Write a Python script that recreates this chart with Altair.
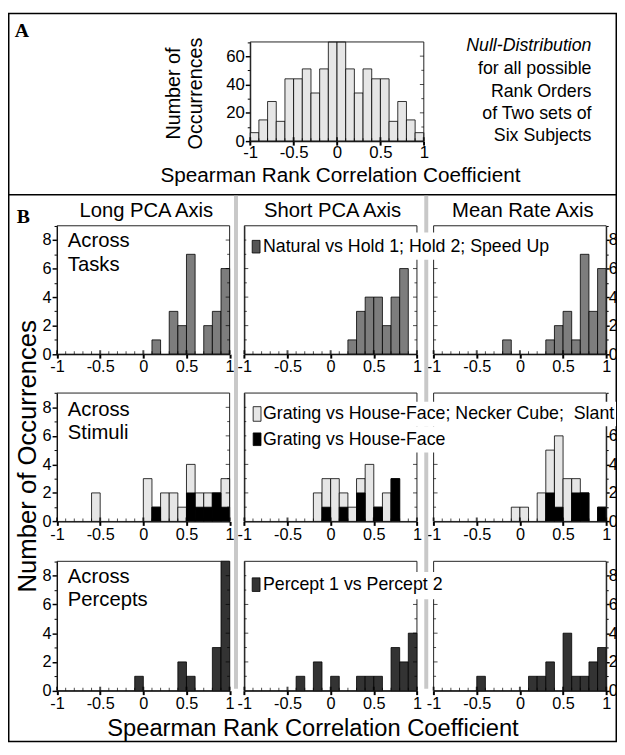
import altair as alt
import pandas as pd

# ---------------- data ----------------
EDGES = [-1.0, -0.9, -0.8, -0.7, -0.6, -0.5, -0.4, -0.3, -0.2, -0.1, 0.0,
         0.1, 0.2, 0.3, 0.4, 0.5, 0.6, 0.7, 0.8, 0.9, 1.0]
X_MAJOR = [-1.0, -0.5, 0.0, 0.5, 1.0]

NULL_COUNTS = [6, 15, 28, 14, 44, 44, 51, 34, 51, 73, 73, 51, 34, 51, 44, 44, 14, 28, 15, 6]

LONG_TASKS = [0, 0, 0, 0, 0, 0, 0, 0, 0, 0, 0, 1, 0, 3, 2, 7, 0, 2, 3, 6]
SHORT_TASKS = [0, 0, 0, 0, 0, 0, 0, 0, 0, 0, 0, 0, 1, 3, 4, 4, 2, 4, 6, 0]
MEAN_TASKS = [0, 0, 0, 0, 0, 0, 0, 0, 1, 0, 0, 0, 0, 1, 2, 3, 1, 7, 3, 6]

LONG_STIM_ALL = [0, 0, 0, 0, 2, 0, 0, 0, 0, 0, 3, 1, 2, 2, 1, 4, 2, 2, 2, 3]
LONG_STIM_GHF = [0, 0, 0, 0, 0, 0, 0, 0, 0, 0, 0, 1, 0, 0, 0, 2, 1, 1, 2, 1]
SHORT_STIM_ALL = [0, 0, 0, 0, 0, 0, 0, 0, 2, 3, 3, 2, 1, 3, 4, 1, 2, 3, 0, 0]
SHORT_STIM_GHF = [0, 0, 0, 0, 0, 0, 0, 0, 0, 1, 0, 1, 0, 2, 0, 1, 0, 3, 0, 0]
MEAN_STIM_ALL = [0, 0, 0, 0, 0, 0, 0, 0, 0, 1, 1, 0, 2, 5, 6, 3, 3, 2, 0, 1]
MEAN_STIM_GHF = [0, 0, 0, 0, 0, 0, 0, 0, 0, 0, 0, 0, 0, 2, 1, 0, 2, 2, 0, 1]

LONG_PERC = [0, 0, 0, 0, 0, 0, 0, 0, 0, 1, 0, 0, 0, 0, 2, 1, 0, 0, 3, 9]
SHORT_PERC = [0, 0, 0, 0, 0, 0, 1, 0, 2, 0, 1, 0, 0, 1, 1, 1, 0, 3, 2, 4]
MEAN_PERC = [0, 0, 0, 0, 0, 1, 0, 0, 0, 0, 0, 1, 1, 2, 0, 4, 1, 1, 2, 3]

COLUMN_TITLES = ["Long PCA Axis", "Short PCA Axis", "Mean Rate Axis"]
ROW_TITLES = [["Across", "Tasks"], ["Across", "Stimuli"], ["Across", "Percepts"]]
LEGEND_TASKS = "Natural vs Hold 1; Hold 2; Speed Up"
LEGEND_STIM_ALL = "Grating vs House-Face; Necker Cube;\u00a0 Slant"
LEGEND_STIM_GHF = "Grating vs House-Face"
LEGEND_PERC = "Percept 1 vs Percept 2"
NULL_TEXT = ["Null-Distribution", "for all possible", "Rank Orders", "of Two sets of", "Six Subjects"]
X_TITLE = "Spearman Rank Correlation Coefficient"
Y_TITLE = "Number of Occurrences"

# ---------------- layout ----------------
W, H = 617, 739
FONT = "Liberation Sans"
SERIF = "Liberation Serif"
TASK_GRAY = "#7d7d7d"
PERC_DARK = "#333333"
LIGHT = "#e6e6e6"
BLACK = "#000000"


def X(o):
    return (o - 2) * W / 621.0


def Y(o):
    return (o - 3) * H / 750.0


def cond(test, major, minor):
    return {"condition": {"test": test, "value": major}, "value": minor}


def bins_df(counts):
    rows = [{"x0": EDGES[k], "x1": EDGES[k + 1], "c": c, "b": 0}
            for k, c in enumerate(counts) if c > 0]
    return pd.DataFrame(rows)


def hist(series, box, ymax, ymajor, ystep, mode, lab_size=17, xpad=1, hide_top=False):
    x0, x1, yt, yb = box
    xs = alt.Scale(domain=[-1, 1], range=[X(x0), X(x1)], nice=False, zero=False)
    ys = alt.Scale(domain=[0, ymax], range=[Y(yb), Y(yt)], nice=False, zero=False, clamp=True)
    xaxis = alt.Axis(
        orient="bottom", offset=Y(yb) - H, values=X_MAJOR, title=None, grid=False,
        labelExpr="'' + datum.value", labelOverlap=False, labelFlush=False, labelBound=False,
        labelFont=FONT, labelFontSize=lab_size, labelColor="black", labelPadding=xpad,
        domainColor="black", domainWidth=1.2,
        tickColor="black", tickWidth=2, tickSize=4)
    yvals = list(range(0, ymax + 1, ystep))
    ytest = f"datum.value % {ymajor} == 0"
    show = f"({ytest}) && datum.value < {ymax - 1}" if hide_top else ytest
    common = dict(title=None, grid=False, values=yvals, labelOverlap=False,
                  labelExpr=f"({show}) ? datum.label : ''",
                  labelFont=FONT, labelFontSize=lab_size, labelColor="black",
                  domainColor="black", domainWidth=1, tickColor="black",
                  tickWidth=cond(ytest, 1.5, 1))
    if mode == "left":
        yaxis = alt.Axis(orient="left", offset=-X(x0), labelPadding=1,
                         tickSize=cond(ytest, 5, 3), **common)
        inner_edges = [(1.0, -1)]
    elif mode == "right":
        yaxis = alt.Axis(orient="right", offset=X(x1) - W, labelPadding=-1,
                         tickSize=cond(ytest, 3, 2), **common)
        inner_edges = [(-1.0, 1)]
    else:
        common.update(labels=False)
        yaxis = alt.Axis(orient="left", offset=-X(x0), ticks=False, **common)
        inner_edges = [(-1.0, 1), (1.0, -1)]
    enc = dict(x=alt.X("x0:Q", scale=xs, axis=xaxis), y=alt.Y("c:Q", scale=ys, axis=yaxis))
    layers = []
    for counts, fill in series:
        layers.append(alt.Chart(bins_df(counts)).mark_bar(
            fill=fill, stroke="black", strokeWidth=0.8).encode(
                x2=alt.X2("x1"), y2=alt.Y2("b"), **enc))
    frame = alt.Chart(pd.DataFrame([{"x0": -1.0, "x1": 1.0, "c": ymax, "b": 0}])).mark_rect(
        fillOpacity=0, stroke="#222222", strokeWidth=1).encode(
            x2=alt.X2("x1"), y2=alt.Y2("b"), **enc)
    layers.append(frame)
    # inward x ticks (major ones cross the axis together with the outward axis ticks)
    xmaj = pd.DataFrame([{"x0": v, "c": 0} for v in X_MAJOR])
    xmin = pd.DataFrame([{"x0": v, "c": 0} for v in EDGES if v not in X_MAJOR])
    layers.append(alt.Chart(xmaj).mark_tick(orient="vertical", size=4, thickness=2,
                                            yOffset=-2, color="black").encode(**enc))
    layers.append(alt.Chart(xmin).mark_tick(orient="vertical", size=3, thickness=1,
                                            yOffset=-1.5, color="black").encode(**enc))
    # inward y ticks on edges without labels
    for edge, sign in inner_edges:
        ymaj = pd.DataFrame([{"x0": edge, "c": v} for v in yvals[1:-1] if v % ymajor == 0])
        ymin = pd.DataFrame([{"x0": edge, "c": v} for v in yvals[1:-1] if v % ymajor != 0])
        layers.append(alt.Chart(ymaj).mark_tick(orient="horizontal", size=4, thickness=1,
                                                xOffset=sign * 2, color="black").encode(**enc))
        layers.append(alt.Chart(ymin).mark_tick(orient="horizontal", size=2.5, thickness=1,
                                                xOffset=sign * 1.25, color="black").encode(**enc))
    return alt.layer(*layers)


def one():
    return alt.Data(values=[{}])


def txt(s, x, y, size, align="center", angle=0, font=FONT, weight="normal", style="normal"):
    return alt.Chart(one()).mark_text(
        text=s, align=align, baseline="middle", fontSize=size, font=font,
        fontWeight=weight, fontStyle=style, angle=angle, color="black"
    ).encode(x=alt.value(X(x)), y=alt.value(Y(y)))


def rect(x0, y0, x1, y1, fill, stroke="", sw=0.0):
    kw = dict(fill=fill)
    if stroke:
        kw.update(stroke=stroke, strokeWidth=sw)
    return alt.Chart(one()).mark_rect(**kw).encode(
        x=alt.value(X(x0)), x2=alt.value(X(x1)), y=alt.value(Y(y0)), y2=alt.value(Y(y1)))


def vrule(x, y0, y1, color, sw):
    return alt.Chart(one()).mark_rule(color=color, strokeWidth=sw).encode(
        x=alt.value(X(x)), y=alt.value(Y(y0)), y2=alt.value(Y(y1)))


layers = []

# outer box and divider
layers.append(alt.Chart(one()).mark_rect(fillOpacity=0, stroke="black", strokeWidth=1.5).encode(
    x=alt.value(0.75), x2=alt.value(W - 0.75), y=alt.value(0.75), y2=alt.value(H - 0.75)))
layers.append(alt.Chart(one()).mark_rule(color="black", strokeWidth=1.5).encode(
    x=alt.value(0), x2=alt.value(W), y=alt.value(Y(190))))

# gray separators
layers.append(vrule(234.5, 191, 698, "#c8c8c8", 4))
layers.append(vrule(428.5, 191, 698, "#c8c8c8", 4))

# panel A histogram
layers.append(hist([(NULL_COUNTS, LIGHT)], (249, 426, 33, 135), 70, 20, 10, "left", 17, 0))

COLS = [(52, 228), (243, 419), (436, 612)]
ROWS = [(222, 354), (394, 526), (567, 700)]
MODES = ["left", "middle", "right"]
DATA = [
    [[(LONG_TASKS, TASK_GRAY)], [(SHORT_TASKS, TASK_GRAY)], [(MEAN_TASKS, TASK_GRAY)]],
    [[(LONG_STIM_ALL, LIGHT), (LONG_STIM_GHF, BLACK)],
     [(SHORT_STIM_ALL, LIGHT), (SHORT_STIM_GHF, BLACK)],
     [(MEAN_STIM_ALL, LIGHT), (MEAN_STIM_GHF, BLACK)]],
    [[(LONG_PERC, PERC_DARK)], [(SHORT_PERC, PERC_DARK)], [(MEAN_PERC, PERC_DARK)]],
]
for r, (yt, yb) in enumerate(ROWS):
    for c, (x0, x1) in enumerate(COLS):
        hide = (r == 1 and c == 2)  # top label hidden behind the legend box
        layers.append(hist(DATA[r][c], (x0, x1, yt, yb), 9, 2, 1, MODES[c], 16.5,
                           hide_top=hide))

# legend boxes (white backgrounds covering separators)
layers.append(rect(245, 229, 560, 257, "white"))
layers.append(rect(245, 403, 622, 428, "white"))
layers.append(rect(245, 428, 455, 455, "white"))
layers.append(rect(245, 578, 450, 606, "white"))
layers.append(rect(251, 237, 259, 250, "#555555", "black", 0.8))
layers.append(rect(252, 408, 260, 423, LIGHT, "black", 0.8))
layers.append(rect(252, 435, 260, 448, BLACK, "black", 0.8))
layers.append(rect(251, 584, 259, 598, PERC_DARK, "black", 0.8))
LEG = 18
layers.append(txt(LEGEND_TASKS, 262, 243.5, LEG, align="left"))
layers.append(txt(LEGEND_STIM_ALL, 262, 415.5, LEG, align="left"))
layers.append(txt(LEGEND_STIM_GHF, 262, 442, LEG, align="left"))
layers.append(txt(LEGEND_PERC, 262, 591, LEG, align="left"))

# panel A texts
layers.append(txt("A", 9, 22, 20, align="left", font=SERIF, weight="bold"))
layers.append(txt("Number of", 171, 86, 20, angle=270))
layers.append(txt("Occurrences", 194, 86, 20, angle=270))
layers.append(txt(X_TITLE, 341, 171, 21))
for i, (line, yy) in enumerate(zip(NULL_TEXT, [37, 61, 84, 107, 130])):
    layers.append(txt(line, 597, yy, 18, align="right", style="italic" if i == 0 else "normal"))

# panel B texts
layers.append(txt("B", 11, 213, 20, align="left", font=SERIF, weight="bold"))
for t, cx in zip(COLUMN_TITLES, [143, 333, 527]):
    layers.append(txt(t, cx, 207, 20.5))
for (l1, l2), (ya, yb2) in zip(ROW_TITLES, [(238, 262), (412, 435), (583, 607)]):
    layers.append(txt(l1, 63, ya, 20.5, align="left"))
    layers.append(txt(l2, 63, yb2, 20.5, align="left"))
layers.append(txt(Y_TITLE, 22, 459, 26, angle=270))
layers.append(txt(X_TITLE, 313, 740, 24))

chart = alt.layer(*layers).resolve_scale(x="independent", y="independent").properties(
    width=W, height=H, autosize=alt.AutoSizeParams(type="none"), padding=0
).configure_view(stroke=None)

chart.save("out.html", embed_options={"renderer": "svg", "actions": False})
